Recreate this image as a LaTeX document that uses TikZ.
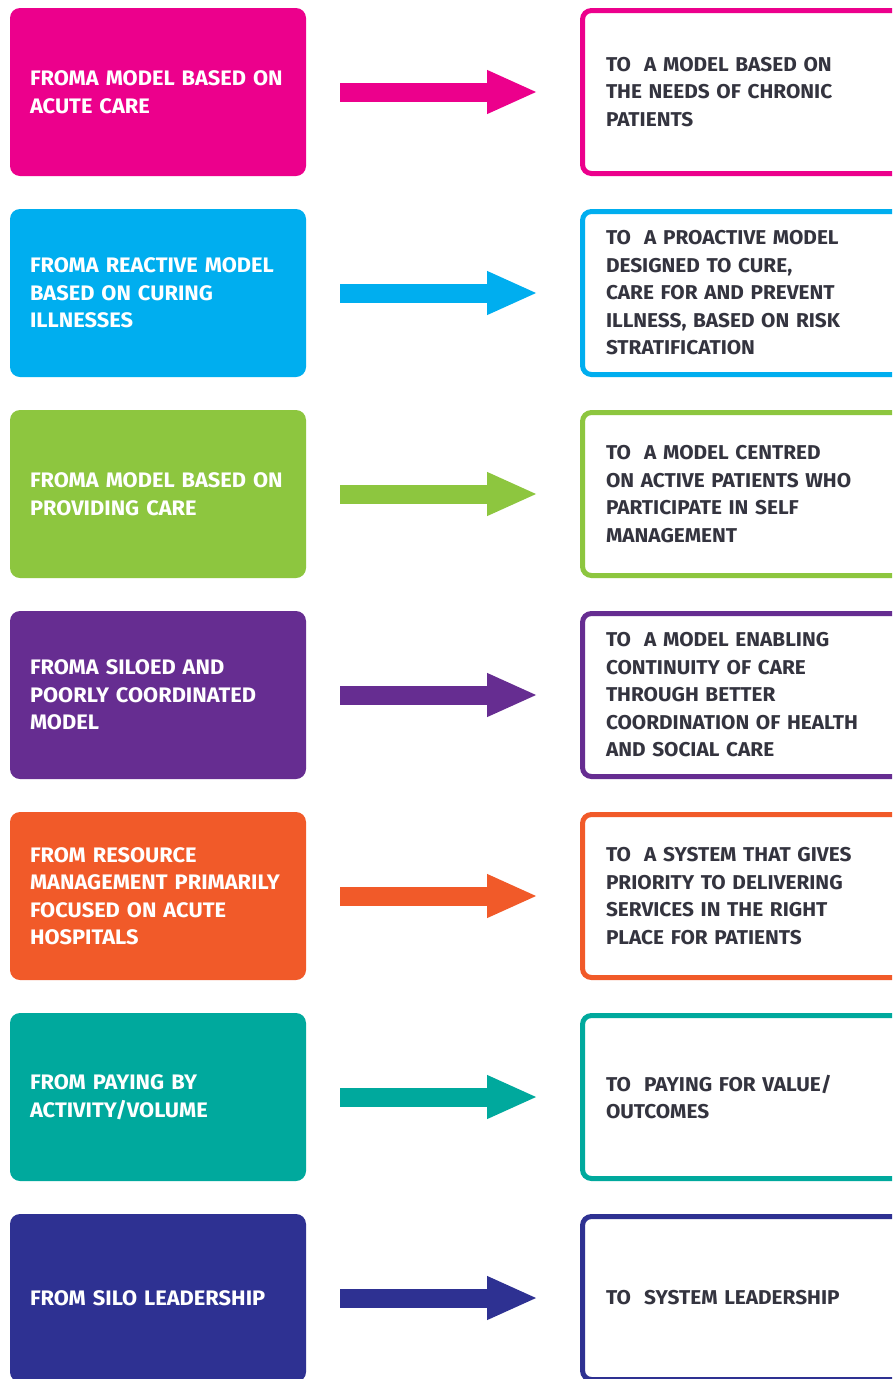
\documentclass[tikz,border=0pt]{standalone}
\usepackage{fontspec}
\setmainfont{Fira Sans}[FakeStretch=1.04]
\usetikzlibrary{arrows.meta}
\definecolor{pinkc}{HTML}{EC008C}
\definecolor{cyanc}{HTML}{00AEEF}
\definecolor{greenc}{HTML}{8DC63F}
\definecolor{purplec}{HTML}{662D91}
\definecolor{orangec}{HTML}{F15A29}
\definecolor{tealc}{HTML}{00A99D}
\definecolor{navyc}{HTML}{2E3192}
\definecolor{textgray}{HTML}{34343F}
\tikzset{
	frombox/.style={rounded corners=10pt, fill=#1, text=white, minimum width=296pt, minimum height=168pt, inner xsep=20pt, text width=256pt, align=left, font=\fontsize{21}{27.5}\selectfont\bfseries},
	tobox/.style={rounded corners=9pt, draw=#1, line width=5pt, fill=white, text=textgray, minimum width=330pt, minimum height=163pt, inner xsep=23.5pt, text width=283pt, align=left, font=\fontsize{20}{27.5}\selectfont\bfseries},
	shiftarrow/.style={draw=#1, line width=19pt, -{Triangle[length=51pt,width=40pt]}, shorten <=34pt, shorten >=42pt},
}

\begin{document}
\begin{tikzpicture}[x=1pt,y=-1pt]
	\clip (0,0) rectangle (892,1379);
	\fill[white] (0,0) rectangle (892,1379);
	% left column
	\node[frombox=pinkc] (from1) at (158,92) {FROMA MODEL BASED ON\\ACUTE CARE};
	\node[frombox=cyanc] (from2) at (158,293) {FROMA REACTIVE MODEL\\BASED ON CURING\\ILLNESSES};
	\node[frombox=greenc] (from3) at (158,494) {FROMA MODEL BASED ON\\PROVIDING CARE};
	\node[frombox=purplec] (from4) at (158,695) {FROMA SILOED AND\\POORLY COORDINATED\\MODEL};
	\node[frombox=orangec] (from5) at (158,896) {FROM RESOURCE\\MANAGEMENT PRIMARILY\\FOCUSED ON ACUTE\\HOSPITALS};
	\node[frombox=tealc] (from6) at (158,1097) {FROM PAYING BY\\ACTIVITY/VOLUME};
	\node[frombox=navyc] (from7) at (158,1298) {FROM SILO LEADERSHIP};
	% right column
	\node[tobox=pinkc, anchor=west] (to1) at (580,92) {TO\ \ A MODEL BASED ON\\THE NEEDS OF CHRONIC\\PATIENTS};
	\node[tobox=cyanc, anchor=west] (to2) at (580,293) {TO\ \ A PROACTIVE MODEL\\DESIGNED TO CURE,\\CARE FOR AND PREVENT\\ILLNESS, BASED ON RISK\\STRATIFICATION};
	\node[tobox=greenc, anchor=west] (to3) at (580,494) {TO\ \ A MODEL CENTRED\\ON ACTIVE PATIENTS WHO\\PARTICIPATE IN SELF\\MANAGEMENT};
	\node[tobox=purplec, anchor=west] (to4) at (580,695) {TO\ \ A MODEL ENABLING\\CONTINUITY OF CARE\\THROUGH BETTER\\COORDINATION OF HEALTH\\AND SOCIAL CARE};
	\node[tobox=orangec, anchor=west] (to5) at (580,896) {TO\ \ A SYSTEM THAT GIVES\\PRIORITY TO DELIVERING\\SERVICES IN THE RIGHT\\PLACE FOR PATIENTS};
	\node[tobox=tealc, anchor=west] (to6) at (580,1097) {TO\ \ PAYING FOR VALUE/\\OUTCOMES};
	\node[tobox=navyc, anchor=west] (to7) at (580,1298) {TO\ \ SYSTEM LEADERSHIP};
	% arrows
	\draw[shiftarrow=pinkc] (from1) -- (to1);
	\draw[shiftarrow=cyanc] (from2) -- (to2);
	\draw[shiftarrow=greenc] (from3) -- (to3);
	\draw[shiftarrow=purplec] (from4) -- (to4);
	\draw[shiftarrow=orangec] (from5) -- (to5);
	\draw[shiftarrow=tealc] (from6) -- (to6);
	\draw[shiftarrow=navyc] (from7) -- (to7);
\end{tikzpicture}
\end{document}
